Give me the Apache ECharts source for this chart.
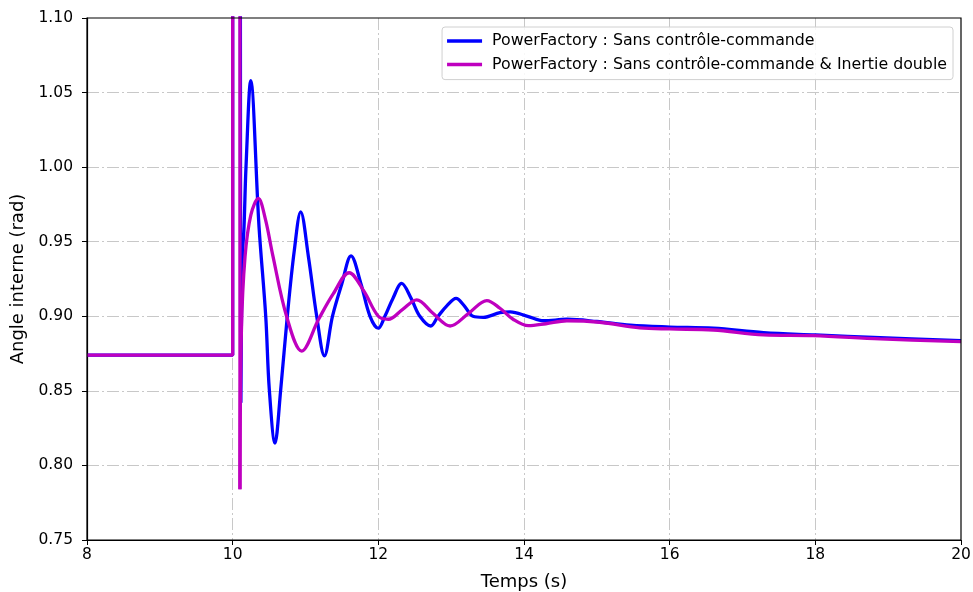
<!DOCTYPE html>
<html>
<head>
<meta charset="utf-8">
<script src="https://cdn.jsdelivr.net/npm/echarts@6/dist/echarts.min.js"></script>
<style>html,body{margin:0;padding:0;background:#fff;}#c{width:973px;height:592px;}</style>
</head>
<body>
<div id="c"></div>
<script>
// Series names
const nameBlue = 'PowerFactory : Sans contrôle-commande';
const nameMag = 'PowerFactory : Sans contrôle-commande & Inertie double';

// x tick labels and y tick labels
const xTicks = [8, 10, 12, 14, 16, 18, 20];
const yTicks = [0.75, 0.80, 0.85, 0.90, 0.95, 1.00, 1.05, 1.10];

// Blue: pre-fault step and fault spike (spike goes off the chart)
const blueStepT = [8, 10.0, 10.0, 10.10, 10.11];
const blueStepV = [0.874, 0.874, 1.5, 1.5, 0.842];
// Blue: post-fault oscillation
const blueT = [10.11, 10.132, 10.156, 10.183, 10.248, 10.362, 10.454, 10.503, 10.581, 10.66, 10.75, 10.846, 10.934, 11.04, 11.154, 11.26, 11.37, 11.5, 11.625, 11.76, 11.886, 11.999, 12.09, 12.2, 12.32, 12.45, 12.57, 12.72, 12.82, 12.94, 13.067, 13.18, 13.30, 13.44, 13.67, 13.81, 14.05, 14.27, 14.59, 15.0, 15.46, 16.0, 16.6, 17.29, 18.0, 18.89, 20.0];
const blueV = [0.842, 0.938, 0.960, 1.000, 1.058, 0.960, 0.900, 0.851, 0.815, 0.851, 0.900, 0.944, 0.970, 0.940, 0.900, 0.8735, 0.900, 0.922, 0.9405, 0.922, 0.900, 0.892, 0.900, 0.912, 0.922, 0.912, 0.900, 0.8935, 0.900, 0.907, 0.912, 0.907, 0.900, 0.8993, 0.9024, 0.903, 0.900, 0.897, 0.898, 0.8965, 0.894, 0.8928, 0.892, 0.889, 0.8875, 0.8857, 0.8836];

// Magenta: pre-fault step and fault spike
const magStepT = [8, 10.0, 10.0, 10.10, 10.10];
const magStepV = [0.874, 0.874, 1.5, 1.5, 0.784];
// Magenta: post-fault oscillation
const magT = [10.10, 10.12, 10.17, 10.25, 10.352, 10.45, 10.55, 10.742, 10.948, 11.18, 11.38, 11.60, 11.80, 12.0, 12.137, 12.33, 12.527, 12.75, 12.985, 13.24, 13.49, 13.67, 13.85, 14.06, 14.3, 14.59, 15.04, 15.59, 16.0, 16.6, 17.29, 17.97, 18.89, 20.0];
const magV = [0.784, 0.890, 0.940, 0.968, 0.979, 0.965, 0.941, 0.8997, 0.8767, 0.898, 0.915, 0.9292, 0.917, 0.900, 0.898, 0.9045, 0.911, 0.902, 0.8935, 0.902, 0.9105, 0.9054, 0.898, 0.8937, 0.895, 0.897, 0.896, 0.8923, 0.8915, 0.8908, 0.8875, 0.887, 0.8848, 0.883];

const zip = (a, b) => a.map((t, i) => [t, b[i]]);
const BLUE = '#0000ff', MAG = '#bf00bf';
const FONT = 'DejaVu Sans';
const grid = {type: [12, 3, 2, 3], color: '#c8c8c8', width: 1};

const chart = echarts.init(document.getElementById('c'), null, {renderer: 'canvas'});
chart.setOption({
  animation: false,
  textStyle: {fontFamily: FONT},
  grid: {left: 87, right: 12, top: 18, bottom: 52, outerBoundsMode: 'none', containLabel: false,
    show: true, borderColor: '#000', borderWidth: 1.2, backgroundColor: 'transparent', z: 5},
  legend: {
    data: [nameBlue, nameMag],
    orient: 'vertical',
    right: 20, top: 27,
    icon: 'rect', itemWidth: 35, itemHeight: 3.5, itemGap: 5.6,
    padding: [5, 6, 6, 5],
    borderColor: '#d0d0d0', borderWidth: 1, borderRadius: 3,
    backgroundColor: 'rgba(255,255,255,0.85)',
    textStyle: {fontFamily: FONT, fontSize: 15.8, lineHeight: 18, color: '#000', padding: [0, 0, 0, 5]}
  },
  xAxis: {
    type: 'value', min: 8, max: 20, interval: 2,
    name: 'Temps (s)', nameLocation: 'middle', nameGap: 33,
    nameTextStyle: {fontFamily: FONT, fontSize: 18, color: '#000'},
    axisLine: {show: true, onZero: false, lineStyle: {color: '#000', width: 1.2}},
    axisTick: {show: true, inside: false, length: 5, lineStyle: {color: '#000'}},
    axisLabel: {fontFamily: FONT, fontSize: 15.5, color: '#000', margin: 7,
      formatter: v => xTicks.includes(v) ? String(v) : ''},
    splitLine: {show: true, showMinLine: false, showMaxLine: false, lineStyle: grid}
  },
  yAxis: {
    type: 'value', min: 0.75, max: 1.10, interval: 0.05,
    name: 'Angle interne (rad)', nameLocation: 'middle', nameGap: 56, nameRotate: 90,
    nameTextStyle: {fontFamily: FONT, fontSize: 18, color: '#000'},
    axisLine: {show: true, onZero: false, lineStyle: {color: '#000', width: 1.2}},
    axisTick: {show: true, inside: false, length: 5, lineStyle: {color: '#000'}},
    axisLabel: {fontFamily: FONT, fontSize: 15.5, color: '#000', margin: 14,
      formatter: v => { const m = yTicks.find(t => Math.abs(t - v) < 1e-6); return m === undefined ? '' : m.toFixed(2); }},
    splitLine: {show: true, showMinLine: false, showMaxLine: false, lineStyle: grid}
  },
  series: [
    {name: nameBlue, type: 'line', data: zip(blueStepT, blueStepV), showSymbol: false, clip: true,
      lineStyle: {color: BLUE, width: 3.3}, itemStyle: {color: BLUE}, z: 2},
    {name: nameBlue, type: 'line', data: zip(blueT, blueV), showSymbol: false, clip: true, smooth: 0.35,
      lineStyle: {color: BLUE, width: 3.3}, itemStyle: {color: BLUE}, z: 2},
    {name: nameMag, type: 'line', data: zip(magStepT, magStepV), showSymbol: false, clip: true,
      lineStyle: {color: MAG, width: 3.3}, itemStyle: {color: MAG}, z: 3},
    {name: nameMag, type: 'line', data: zip(magT, magV), showSymbol: false, clip: true, smooth: 0.35,
      lineStyle: {color: MAG, width: 3.3}, itemStyle: {color: MAG}, z: 3}
  ]
});
</script>
</body>
</html>
